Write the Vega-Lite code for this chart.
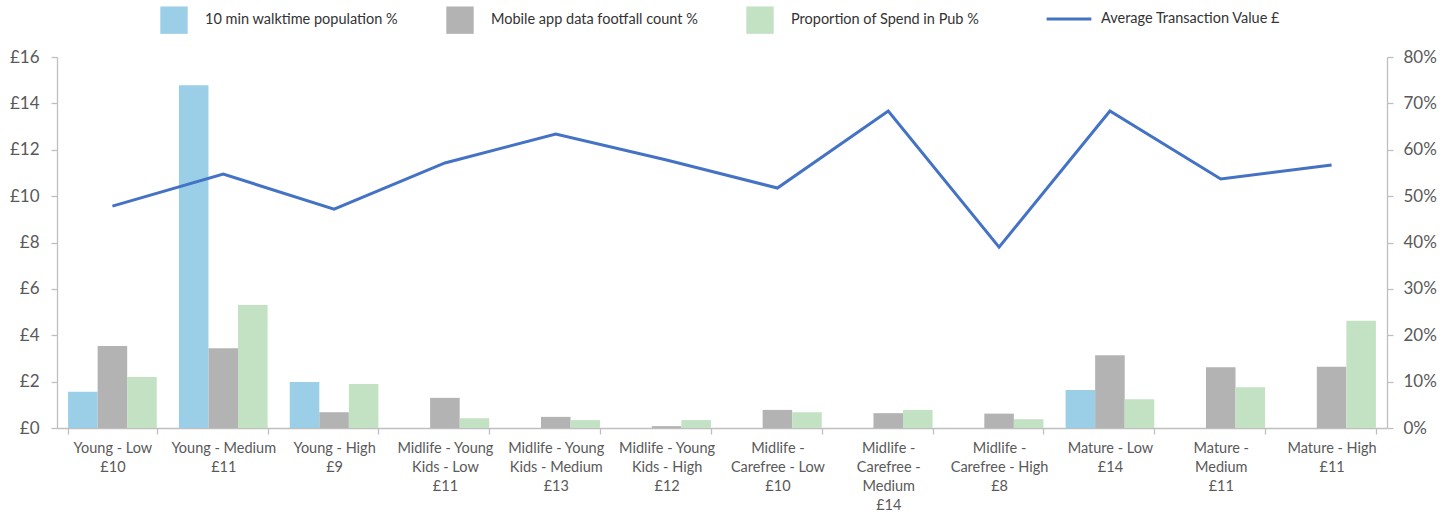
{
  "$schema": "https://vega.github.io/schema/vega-lite/v6.json",
  "width": 1330,
  "height": 371,
  "autosize": "none",
  "padding": {"left": 57, "top": 57, "right": 69, "bottom": 85},
  "background": "white",
  "config": {
    "font": "Lato",
    "view": {"stroke": null},
    "axis": {"grid": false, "domainColor": "#BFBFBF", "tickColor": "#BFBFBF", "labelColor": "#595959", "labelFont": "Lato", "domainWidth": 1.3, "tickWidth": 1.3},
    "legend": {"labelFont": "Lato", "labelColor": "#333333", "labelFontSize": 14.5, "labelLimit": 400}
  },
  "datasets": {
    "bars": [
      {"label": "Young - Low|£10", "series": "10 min walktime population %", "pct": 0.078},
      {"label": "Young - Low|£10", "series": "Mobile app data footfall count %", "pct": 0.177},
      {"label": "Young - Low|£10", "series": "Proportion of Spend in Pub %", "pct": 0.110},
      {"label": "Young - Medium|£11", "series": "10 min walktime population %", "pct": 0.739},
      {"label": "Young - Medium|£11", "series": "Mobile app data footfall count %", "pct": 0.172},
      {"label": "Young - Medium|£11", "series": "Proportion of Spend in Pub %", "pct": 0.265},
      {"label": "Young - High|£9", "series": "10 min walktime population %", "pct": 0.099},
      {"label": "Young - High|£9", "series": "Mobile app data footfall count %", "pct": 0.034},
      {"label": "Young - High|£9", "series": "Proportion of Spend in Pub %", "pct": 0.095},
      {"label": "Midlife - Young|Kids - Low|£11", "series": "10 min walktime population %", "pct": 0},
      {"label": "Midlife - Young|Kids - Low|£11", "series": "Mobile app data footfall count %", "pct": 0.065},
      {"label": "Midlife - Young|Kids - Low|£11", "series": "Proportion of Spend in Pub %", "pct": 0.021},
      {"label": "Midlife - Young|Kids - Medium|£13", "series": "10 min walktime population %", "pct": 0},
      {"label": "Midlife - Young|Kids - Medium|£13", "series": "Mobile app data footfall count %", "pct": 0.024},
      {"label": "Midlife - Young|Kids - Medium|£13", "series": "Proportion of Spend in Pub %", "pct": 0.017},
      {"label": "Midlife - Young|Kids - High|£12", "series": "10 min walktime population %", "pct": 0},
      {"label": "Midlife - Young|Kids - High|£12", "series": "Mobile app data footfall count %", "pct": 0.004},
      {"label": "Midlife - Young|Kids - High|£12", "series": "Proportion of Spend in Pub %", "pct": 0.017},
      {"label": "Midlife -|Carefree - Low|£10", "series": "10 min walktime population %", "pct": 0},
      {"label": "Midlife -|Carefree - Low|£10", "series": "Mobile app data footfall count %", "pct": 0.039},
      {"label": "Midlife -|Carefree - Low|£10", "series": "Proportion of Spend in Pub %", "pct": 0.034},
      {"label": "Midlife -|Carefree -|Medium|£14", "series": "10 min walktime population %", "pct": 0},
      {"label": "Midlife -|Carefree -|Medium|£14", "series": "Mobile app data footfall count %", "pct": 0.032},
      {"label": "Midlife -|Carefree -|Medium|£14", "series": "Proportion of Spend in Pub %", "pct": 0.039},
      {"label": "Midlife -|Carefree - High|£8", "series": "10 min walktime population %", "pct": 0},
      {"label": "Midlife -|Carefree - High|£8", "series": "Mobile app data footfall count %", "pct": 0.031},
      {"label": "Midlife -|Carefree - High|£8", "series": "Proportion of Spend in Pub %", "pct": 0.019},
      {"label": "Mature - Low|£14", "series": "10 min walktime population %", "pct": 0.082},
      {"label": "Mature - Low|£14", "series": "Mobile app data footfall count %", "pct": 0.157},
      {"label": "Mature - Low|£14", "series": "Proportion of Spend in Pub %", "pct": 0.062},
      {"label": "Mature -|Medium|£11", "series": "10 min walktime population %", "pct": 0},
      {"label": "Mature -|Medium|£11", "series": "Mobile app data footfall count %", "pct": 0.131},
      {"label": "Mature -|Medium|£11", "series": "Proportion of Spend in Pub %", "pct": 0.088},
      {"label": "Mature - High|£11", "series": "10 min walktime population %", "pct": 0},
      {"label": "Mature - High|£11", "series": "Mobile app data footfall count %", "pct": 0.132},
      {"label": "Mature - High|£11", "series": "Proportion of Spend in Pub %", "pct": 0.231}
    ],
    "line": [
      {"label": "Young - Low|£10", "atv": 9.57},
      {"label": "Young - Medium|£11", "atv": 10.95},
      {"label": "Young - High|£9", "atv": 9.44},
      {"label": "Midlife - Young|Kids - Low|£11", "atv": 11.43},
      {"label": "Midlife - Young|Kids - Medium|£13", "atv": 12.68},
      {"label": "Midlife - Young|Kids - High|£12", "atv": 11.56},
      {"label": "Midlife -|Carefree - Low|£10", "atv": 10.35},
      {"label": "Midlife -|Carefree -|Medium|£14", "atv": 13.67},
      {"label": "Midlife -|Carefree - High|£8", "atv": 7.8},
      {"label": "Mature - Low|£14", "atv": 13.67},
      {"label": "Mature -|Medium|£11", "atv": 10.74},
      {"label": "Mature - High|£11", "atv": 11.34}
    ]
  },
  "encoding": {
    "x": {
      "field": "label", "type": "nominal", "sort": null, "title": null,
      "scale": {"paddingInner": 0.2, "paddingOuter": 0.1},
      "axis": {"labelExpr": "split(datum.label, '|')", "labelAngle": 0, "tickBand": "extent", "tickSize": 6, "labelFontSize": 14.5, "labelLineHeight": 19, "labelPadding": 7, "labelBaseline": "top", "labelLimit": 200}
    }
  },
  "layer": [
    {
      "data": {"name": "bars"},
      "mark": {"type": "bar"},
      "encoding": {
        "xOffset": {"field": "series", "type": "nominal", "scale": {"domain": ["10 min walktime population %", "Mobile app data footfall count %", "Proportion of Spend in Pub %"], "paddingInner": 0, "paddingOuter": 0}},
        "y": {"field": "pct", "type": "quantitative", "title": null, "scale": {"domain": [0, 0.8]},
          "axis": {"orient": "right", "format": ".0%", "values": [0, 0.1, 0.2, 0.3, 0.4, 0.5, 0.6, 0.7, 0.8], "labelFontSize": 17, "tickSize": 6, "labelPadding": 10}},
        "fill": {"field": "series", "type": "nominal",
          "scale": {"domain": ["10 min walktime population %", "Mobile app data footfall count %", "Proportion of Spend in Pub %"], "range": ["#9BCFE7", "#B3B3B3", "#C3E1C3"]},
          "legend": {"title": null, "orient": "none", "direction": "horizontal", "legendX": 103, "legendY": -51, "symbolType": "square", "symbolSize": 750, "symbolStrokeWidth": 0, "symbolOpacity": 1, "labelOffset": 17, "columnPadding": 48}}
      }
    },
    {
      "data": {"name": "line"},
      "mark": {"type": "line", "strokeWidth": 3},
      "encoding": {
        "y": {"field": "atv", "type": "quantitative", "title": null, "scale": {"domain": [0, 16]},
          "axis": {"orient": "left", "values": [0, 2, 4, 6, 8, 10, 12, 14, 16], "labelExpr": "'£' + datum.value", "labelFontSize": 17, "tickSize": 6, "labelPadding": 12}},
        "stroke": {"datum": "Average Transaction Value £", "type": "nominal",
          "scale": {"domain": ["Average Transaction Value £"], "range": ["#4472C4"]},
          "legend": {"title": null, "orient": "none", "legendX": 988, "legendY": -62, "symbolType": "stroke", "symbolSize": 2000, "symbolStrokeWidth": 3, "labelOffset": 8}}
      }
    }
  ],
  "resolve": {"scale": {"y": "independent"}}
}
